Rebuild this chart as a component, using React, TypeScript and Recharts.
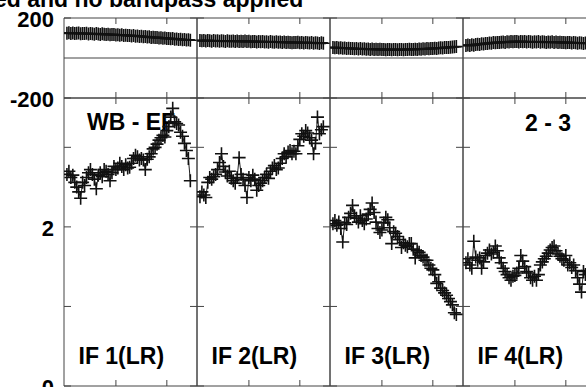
import { Line, LineChart, ReferenceLine, XAxis, YAxis } from "recharts";

const TITLE = "ed and no bandpass applied";
const IF_LABELS = ["IF 1(LR)", "IF 2(LR)", "IF 3(LR)", "IF 4(LR)"];
const BASELINE_LABEL = "WB - EF";
const SOURCE_LABEL = "2 - 3";

const AMP_IF1 = [
  2.66, 2.7, 2.62, 2.65, 2.56, 2.5, 2.44, 2.36,
  2.56, 2.52, 2.62, 2.68, 2.72, 2.66, 2.6, 2.48,
  2.65, 2.68, 2.63, 2.72, 2.7, 2.66, 2.58, 2.68,
  2.76, 2.72, 2.74, 2.8, 2.76, 2.72, 2.78, 2.74,
  2.75, 2.8, 2.86, 2.9, 2.88, 2.84, 2.86, 2.84,
  2.72, 2.85, 2.88, 2.92, 2.98, 3.0, 3.04, 3.09,
  3.12, 3.15, 3.13, 3.21, 3.26, 3.38, 3.49, 3.32,
  3.3, 3.28, 3.19, 3.14, 3.05, 2.96, 2.86, 2.58,
];
const AMP_IF2 = [
  2.38, 2.44, 2.4, 2.37, 2.56, 2.62, 2.6, 2.63,
  2.66, 2.72, 2.81, 2.92, 2.76, 2.69, 2.64, 2.7,
  2.61, 2.58, 2.55, 2.62, 2.87, 2.66, 2.6, 2.52,
  2.37, 2.62, 2.58, 2.65, 2.6, 2.46, 2.52, 2.55,
  2.58, 2.62, 2.66, 2.61, 2.7, 2.74, 2.77, 2.72,
  2.74, 2.8, 2.86, 2.92, 2.88, 2.94, 2.96, 2.92,
  2.95, 2.92, 3.02, 3.1, 3.17, 3.14, 3.21, 3.18,
  3.12, 3.09, 2.92, 3.05, 3.38, 3.17, 3.22, 3.26,
];
const AMP_IF3 = [
  2.04, 2.08, 2.02, 2.06, 1.98, 1.81, 2.05, 2.03,
  2.12, 2.17, 2.27, 2.14, 2.11, 2.06, 2.14, 2.08,
  2.04, 2.1, 2.16, 2.22, 2.3, 2.18, 2.06, 1.98,
  1.93, 1.96, 2.05, 2.12, 2.09, 1.99, 1.79, 1.94,
  1.92, 1.88, 1.84, 1.74, 1.8, 1.77, 1.75, 1.79,
  1.79, 1.72, 1.61, 1.7, 1.68, 1.64, 1.62, 1.58,
  1.58, 1.52, 1.48, 1.46, 1.4, 1.29, 1.31, 1.23,
  1.2, 1.17, 1.14, 1.1, 1.06, 1.02, 0.92, 0.9,
];
const AMP_IF4 = [
  1.55, 1.6, 1.52, 1.48, 1.82, 1.62, 1.58, 1.61,
  1.48, 1.56, 1.64, 1.67, 1.71, 1.66, 1.68, 1.76,
  1.7, 1.61, 1.55, 1.48, 1.44, 1.4, 1.36, 1.33,
  1.38, 1.39, 1.42, 1.48, 1.64, 1.57, 1.5, 1.44,
  1.42, 1.36, 1.33, 1.38, 1.33, 1.4, 1.52, 1.56,
  1.6, 1.63, 1.67, 1.71, 1.74, 1.76, 1.7, 1.66,
  1.63, 1.6, 1.58, 1.64, 1.52, 1.55, 1.49, 1.52,
  1.45, 1.36, 1.28, 1.18, 1.44, 1.4, 1.45, 1.42,
];

const PHASE_IF1 = [
  124, 126, 123, 125, 122, 124, 125, 121,
  123, 122, 124, 120, 122, 121, 119, 122,
  120, 118, 121, 119, 117, 119, 116, 118,
  117, 115, 116, 114, 116, 113, 114, 112,
  113, 110, 112, 109, 110, 108, 109, 106,
  107, 105, 106, 103, 104, 102, 103, 100,
  101, 99, 100, 97, 98, 96, 97, 94,
  95, 93, 94, 91, 92, 90, 91, 89,
];
const PHASE_IF2 = [
  88, 86, 87, 85, 88, 86, 84, 87,
  85, 86, 84, 86, 85, 83, 86, 84,
  84, 85, 83, 85, 82, 84, 83, 85,
  82, 84, 81, 83, 82, 80, 83, 81,
  82, 80, 81, 79, 82, 80, 79, 81,
  79, 80, 78, 80, 77, 79, 78, 76,
  78, 77, 79, 76, 77, 75, 78, 76,
  75, 77, 74, 76, 75, 73, 76, 74,
];
const PHASE_IF3 = [
  53, 51, 52, 50, 51, 49, 50, 48,
  49, 47, 48, 46, 47, 45, 47, 45,
  46, 44, 45, 43, 45, 43, 44, 42,
  44, 42, 43, 41, 43, 42, 41, 43,
  42, 41, 43, 42, 41, 43, 42, 44,
  43, 42, 44, 43, 45, 44, 46, 45,
  47, 46, 48, 47, 49, 48, 50, 51,
  50, 52, 53, 52, 54, 55, 56, 57,
];
const PHASE_IF4 = [
  63, 65, 62, 66, 64, 67, 69, 68,
  71, 70, 73, 72, 75, 74, 77, 76,
  78, 77, 79, 80, 78, 81, 80, 82,
  81, 83, 82, 80, 83, 81, 82, 80,
  82, 81, 79, 81, 80, 82, 79, 81,
  80, 78, 80, 79, 81, 78, 80, 77,
  79, 77, 78, 76, 78, 77, 75, 77,
  76, 74, 76, 75, 73, 75, 74, 73,
];

const CHANNEL_DOMAIN = [-0.5, 67.4];
const CHANNEL_TICKS = [26, 52];
const AMP_DOMAIN = [0, 3.62];
const AMP_TICKS = [0, 1, 2, 3];
const AMP_LABEL_TICKS = [0, 2];
const PHASE_DOMAIN = [-200, 200];
const PHASE_TICKS = [-200, 200];

const AMPS = [AMP_IF1, AMP_IF2, AMP_IF3, AMP_IF4];
const PHASES = [PHASE_IF1, PHASE_IF2, PHASE_IF3, PHASE_IF4];

const IF_DATA = AMPS.map((amps, k) =>
  amps.map((amp, i) => ({ ch: i + 1, amp, phase: PHASES[k][i] })),
);

const PANEL_X = [64, 197, 330, 463];
const PANEL_W = 133;
const FRAME = "#444";
const FONT = "'Liberation Sans', Arial, sans-serif";

const frameLine = { stroke: FRAME, strokeWidth: 1 };

// tick marks only, no tick text
const noText = () => <g />;

function LabelTick(props: any) {
  const { x, y, payload } = props;
  return (
    <text
      x={x}
      y={y}
      dy={9}
      textAnchor="end"
      fontSize={22}
      fontWeight={700}
      fontFamily={FONT}
      fill="#000"
    >
      {payload.value}
    </text>
  );
}

function Cross(props: any) {
  const { cx, cy, index } = props;
  if (cx == null || cy == null) return <g key={`c-${index}`} />;
  return (
    <path
      key={`c-${index}`}
      d={`M${cx - 6.5},${cy}h13M${cx},${cy - 6.5}v13`}
      stroke="#111"
      strokeWidth={1.6}
      fill="none"
    />
  );
}

function Panel({ k, kind }: { k: number; kind: "phase" | "amp" }) {
  const first = k === 0;
  const rowTop = kind === "phase" ? 18 : 98;
  const rowH = kind === "phase" ? 80 : 288;
  const labelW = first ? PANEL_X[0] - 2 : 0;
  const left = first ? 0 : PANEL_X[k] - 2;
  const width = labelW + 2 + PANEL_W + 2;
  const top = rowTop - 18;
  const height = 18 + rowH + 14;
  const domain = kind === "phase" ? PHASE_DOMAIN : AMP_DOMAIN;
  const ticks = kind === "phase" ? PHASE_TICKS : AMP_TICKS;
  const labelTicks = kind === "phase" ? PHASE_TICKS : AMP_LABEL_TICKS;

  return (
    <div style={{ position: "absolute", left, top }}>
      <LineChart
        width={width}
        height={height}
        data={IF_DATA[k]}
        margin={{ top: 18, right: 2, bottom: 14, left: 2 }}
      >
        <XAxis
          xAxisId="b"
          type="number"
          dataKey="ch"
          domain={CHANNEL_DOMAIN}
          allowDataOverflow
          ticks={CHANNEL_TICKS}
          interval={0}
          orientation="bottom"
          mirror
          height={1}
          tick={noText}
          tickSize={6}
          axisLine={frameLine}
          tickLine={frameLine}
        />
        <XAxis
          xAxisId="t"
          type="number"
          dataKey="ch"
          domain={CHANNEL_DOMAIN}
          allowDataOverflow
          ticks={CHANNEL_TICKS}
          interval={0}
          orientation="top"
          mirror
          height={1}
          tick={noText}
          tickSize={6}
          axisLine={frameLine}
          tickLine={frameLine}
        />
        {first && (
          <YAxis
            yAxisId="lbl"
            orientation="left"
            type="number"
            width={labelW}
            domain={domain}
            allowDataOverflow
            ticks={labelTicks}
            interval={0}
            axisLine={false}
            tickLine={false}
            tickSize={0}
            tickMargin={10}
            tick={LabelTick}
          />
        )}
        <YAxis
          yAxisId="l"
          orientation="left"
          type="number"
          mirror
          width={1}
          domain={domain}
          allowDataOverflow
          ticks={ticks}
          interval={0}
          tick={noText}
          tickSize={7}
          axisLine={frameLine}
          tickLine={frameLine}
        />
        <YAxis
          yAxisId="r"
          orientation="right"
          type="number"
          mirror
          width={1}
          domain={domain}
          allowDataOverflow
          ticks={ticks}
          interval={0}
          tick={noText}
          tickSize={7}
          axisLine={frameLine}
          tickLine={frameLine}
        />
        {kind === "phase" && <ReferenceLine xAxisId="b" yAxisId="l" y={0} stroke={FRAME} />}
        <Line
          xAxisId="b"
          yAxisId="l"
          type="linear"
          dataKey={kind}
          stroke="#222"
          strokeWidth={1}
          dot={Cross}
          activeDot={false}
          isAnimationActive={false}
        />
      </LineChart>
    </div>
  );
}

export default function App() {
  return (
    <div
      style={{
        position: "fixed",
        left: 0,
        top: 0,
        width: 586,
        height: 387,
        overflow: "hidden",
        background: "#fff",
      }}
    >
      <svg
        width={586}
        height={387}
        style={{ position: "absolute", left: 0, top: 0 }}
        fontFamily={FONT}
        fontWeight={700}
      >
        <text x={-6} y={7} fontSize={23} fill="#000">
          {TITLE}
        </text>
        <text x={87} y={130} fontSize={23} fill="#000">
          {BASELINE_LABEL}
        </text>
        <text x={525} y={131} fontSize={23} fill="#000">
          {SOURCE_LABEL}
        </text>
        {IF_LABELS.map((label, k) => (
          <text key={label} x={PANEL_X[k] + 14.5} y={364} fontSize={23} fill="#000">
            {label}
          </text>
        ))}
      </svg>
      {[0, 1, 2, 3].map((k) => (
        <Panel key={`p${k}`} k={k} kind="phase" />
      ))}
      {[0, 1, 2, 3].map((k) => (
        <Panel key={`a${k}`} k={k} kind="amp" />
      ))}
    </div>
  );
}
